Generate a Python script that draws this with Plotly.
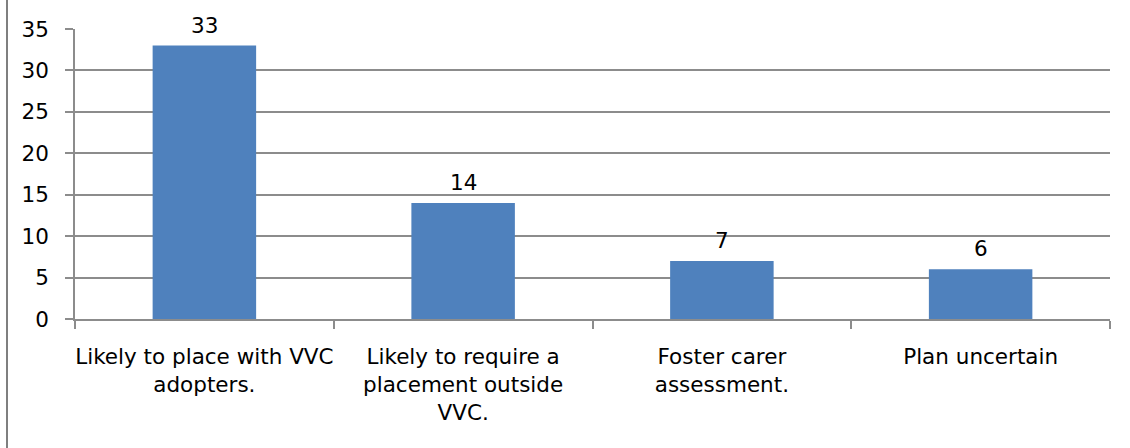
import plotly.graph_objects as go

categories = [
    "Likely to place with VVC<br>adopters.",
    "Likely to require a<br>placement outside<br>VVC.",
    "Foster carer<br>assessment.",
    "Plan uncertain",
]
values = [33, 14, 7, 6]
y_ticks = [0, 5, 10, 15, 20, 25, 30, 35]

W, H = 1130, 448
ML, MR, MT, MB = 75, 20, 29, 129
FONT = "DejaVu Sans, Open Sans, sans-serif"
FS = 21.5
GRID = "#8c8c8c"

fig = go.Figure(go.Bar(
    x=categories, y=values,
    marker=dict(color="#4F81BD", line=dict(width=0)),
    cliponaxis=False,
))

for c, v in zip(categories, values):
    fig.add_annotation(x=c, y=v, text=str(v), showarrow=False,
                       yanchor="bottom", yshift=6,
                       font=dict(family=FONT, size=FS, color="#000000"))

pw = W - ML - MR
fig.update_layout(
    width=W, height=H,
    margin=dict(l=ML, r=MR, t=MT, b=MB, pad=0),
    paper_bgcolor="white", plot_bgcolor="white",
    bargap=0.6, showlegend=False,
    font=dict(family=FONT, size=FS, color="#000000"),
    xaxis=dict(
        type="category", showline=True, linecolor=GRID, linewidth=2,
        ticks="outside", tickson="boundaries", ticklen=8, tickcolor=GRID, tickwidth=1.5,
        showgrid=False, automargin=False, ticklabelstandoff=17, tickangle=0,
        tickfont=dict(family=FONT, size=FS, color="#000000"),
    ),
    yaxis=dict(
        range=[0, 35], tickvals=y_ticks, showline=True, linecolor=GRID, linewidth=1.5,
        ticks="outside", ticklen=8, tickcolor=GRID, tickwidth=1.5,
        showgrid=True, gridcolor=GRID, gridwidth=1.5, zeroline=False, automargin=False,
        tickfont=dict(family=FONT, size=FS, color="#000000"),
        ticklabelstandoff=12,
    ),
    shapes=[dict(type="line", xref="paper", yref="paper",
                 x0=(7 - ML) / pw, x1=(7 - ML) / pw, y0=-2, y1=2,
                 line=dict(color="#7f7f7f", width=2))],
)

fig.write_html("out.html", config={"displayModeBar": False},
               post_script="document.body.style.margin='0';document.body.style.padding='0';")
